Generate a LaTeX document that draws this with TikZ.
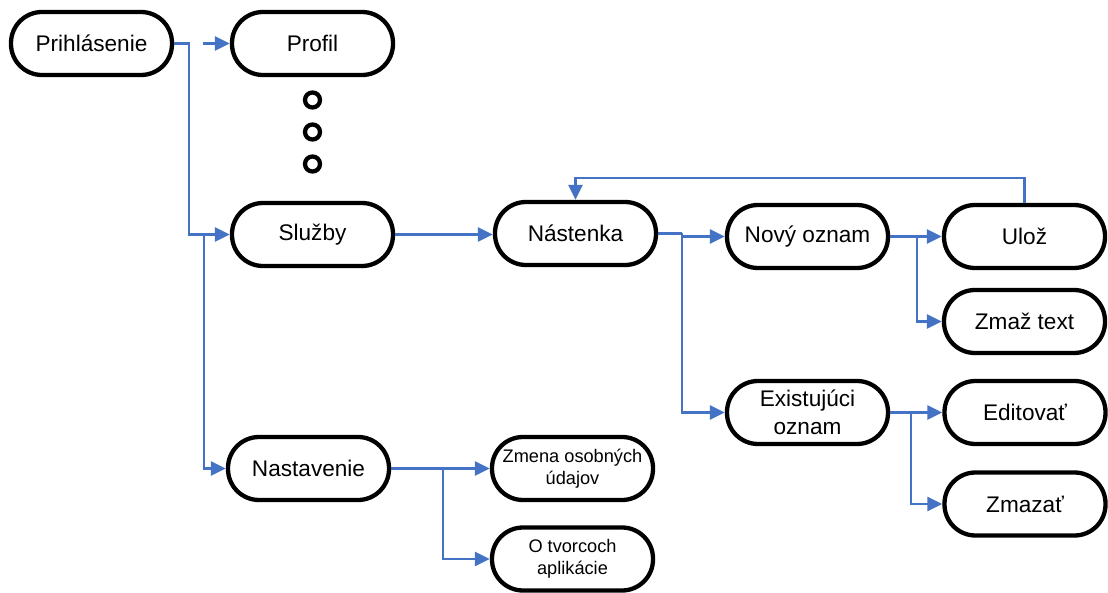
\documentclass[tikz,border=0pt]{standalone}
\usepackage{fontspec}
\setmainfont{Liberation Sans}
\usetikzlibrary{arrows.meta}
\definecolor{linkblue}{RGB}{68,114,196}
\begin{document}
\begin{tikzpicture}[x=1pt,y=-1pt,
  pill/.style={draw, line width=4.3pt, rectangle, rounded corners=31pt,
    minimum width=161pt, minimum height=63pt, inner sep=0pt, align=center,
    font=\fontsize{22.6}{27.7}\selectfont},
  pillsmall/.style={pill, font=\fontsize{18.2}{21.7}\selectfont},
  conn/.style={draw=linkblue, line width=2.5pt,
    -{Triangle[length=15pt,width=14pt]}},
  plain/.style={draw=linkblue, line width=2.5pt},
  dot/.style={draw, line width=4.3pt, circle, minimum size=15pt, inner sep=0pt}]
\useasboundingbox (0,0) rectangle (1108,593);

% boxes
\node[pill] (prih) at (91.5,43.5) {Prihlásenie};
\node[pill] (profil) at (312.5,43.5) {Profil};
\node[pill] (sluzby) at (312.5,234.5) {Služby};
\node[pill] (nastenka) at (575.5,233.5) {Nástenka};
\node[pill] (novy) at (807.5,236.5) {Nový oznam};
\node[pill] (uloz) at (1024.5,236.5) {Ulož};
\node[pill] (zmaz) at (1024.5,321.5) {Zmaž text};
\node[pill] (exist) at (807.5,412.5) {Existujúci\\oznam};
\node[pill] (edit) at (1025,412.5) {Editovať};
\node[pill] (zmazat) at (1025,504) {Zmazať};
\node[pill] (nast) at (308.5,468.5) {Nastavenie};
\node[pillsmall] (zmena) at (572.5,468.5) {Zmena osobných\\údajov};
\node[pillsmall] (otvor) at (572.5,559) {O tvorcoch\\aplikácie};

% ellipsis dots below Profil
\node[dot] (d1) at (312.5,100) {};
\node[dot] (d2) at (312.5,132) {};
\node[dot] (d3) at (312.5,164) {};

% junction points
\coordinate (j1) at (189,43.5);
\coordinate (pf) at (203,43.5);
\coordinate (j2) at (204,234.5);
\coordinate (j3) at (682,233.5);
\coordinate (j4) at (917,236.5);
\coordinate (j5) at (911,412.5);
\coordinate (j6) at (443,468.5);

% connectors
\draw[conn] (prih.east) -- (j1) |- (sluzby.west);
\draw[conn] (pf) -- (profil.west);
\draw[conn] (j2) |- (nast.west);
\draw[conn] (sluzby.east) -- (sluzby.east -| nastenka.west);
\draw[plain] (nastenka.east) -- (j3);
\draw[conn] (j3) |- (novy.west);
\draw[conn] (j3) |- (exist.west);
\draw[conn] (novy.east) -- (uloz.west);
\draw[conn] (j4) |- (zmaz.west);
\draw[conn] (exist.east) -- (edit.west);
\draw[conn] (j5) |- (zmazat.west);
\draw[conn] (uloz.north) -- ++(0,-25) -| (nastenka.north);
\draw[conn] (nast.east) -- (zmena.west);
\draw[conn] (j6) |- (otvor.west);
\end{tikzpicture}
\end{document}
